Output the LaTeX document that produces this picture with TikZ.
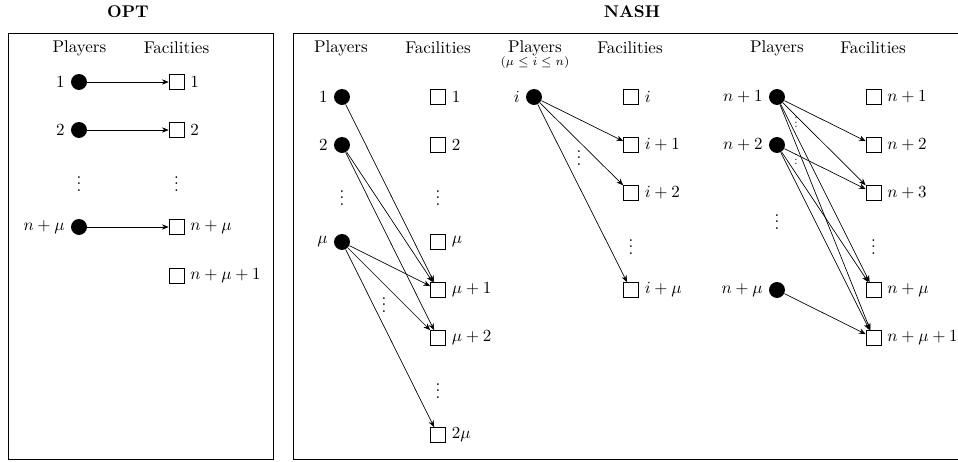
\documentclass[tikz,border=0pt]{standalone}
\usetikzlibrary{arrows.meta}
\tikzset{
  pl/.style={circle, fill=black, inner sep=0pt, minimum size=9.4pt},
  fac/.style={draw, rectangle, inner sep=0pt, minimum size=8.8pt},
  hdr/.style={inner sep=0pt},
  arr/.style={-{Stealth[length=4pt,width=3.2pt]}},
  vd/.style={inner sep=0pt},
  smallvd/.style={inner sep=0pt, scale=0.7},
  frame/.style={draw}
}
\begin{document}
\begin{tikzpicture}[x=0.5889pt, y=-0.5889pt]
\useasboundingbox (0,0) rectangle (958,462);
% ---------- OPT ----------
\node[hdr, font=\bfseries] (optt) at (128,12) {OPT};
\draw[frame] (8,33) rectangle (273,459);
\node[hdr] (oph) at (79.5,48) {Players};
\node[hdr] (ofh) at (176.5,48) {Facilities};
\node[pl, label=left:$1$] (op1) at (79,82) {};
\node[pl, label=left:$2$] (op2) at (79,130) {};
\node[vd] (opd) at (79,179) {$\vdots$};
\node[pl, label=left:$n+\mu$] (opn) at (79,227) {};
\node[fac, label=right:$1$] (of1) at (176.5,82) {};
\node[fac, label=right:$2$] (of2) at (176.5,130) {};
\node[vd] (ofd) at (176.5,179) {$\vdots$};
\node[fac, label=right:$n+\mu$] (ofn) at (176.5,227) {};
\node[fac, label=right:$n+\mu+1$] (ofn1) at (176.5,276) {};
\draw[arr] (op1) -- (of1);
\draw[arr] (op2) -- (of2);
\draw[arr] (opn) -- (ofn);
% ---------- NASH ----------
\node[hdr, font=\bfseries] (nasht) at (632,12) {NASH};
\draw[frame] (960,33) -- (293,33) -- (293,459) -- (960,459);
% section A
\node[hdr] (aph) at (341,48) {Players};
\node[hdr] (afh) at (438,48) {Facilities};
\node[pl, label=left:$1$] (a1) at (342,97) {};
\node[pl, label=left:$2$] (a2) at (342,145) {};
\node[vd] (ad) at (342,193) {$\vdots$};
\node[pl, label=left:$\mu$] (amu) at (342,242) {};
\node[fac, label=right:$1$] (b1) at (438,97) {};
\node[fac, label=right:$2$] (b2) at (438,145) {};
\node[vd] (bd) at (438,193) {$\vdots$};
\node[fac, label=right:$\mu$] (bmu) at (438,242) {};
\node[fac, label=right:$\mu+1$] (bmu1) at (438,290) {};
\node[fac, label=right:$\mu+2$] (bmu2) at (438,338) {};
\node[vd] (bd2) at (438,386) {$\vdots$};
\node[fac, label=right:$2\mu$] (b2mu) at (438,435) {};
\node[vd] (abd) at (384,300) {$\vdots$};
\draw[arr] (a1) -- (bmu1);
\draw[arr] (a2) -- (bmu1);
\draw[arr] (a2) -- (bmu2);
\draw[arr] (amu) -- (bmu1);
\draw[arr] (amu) -- (bmu2);
\draw[arr] (amu) -- (b2mu);
% section B
\node[hdr] (cph) at (535,48) {Players};
\node[hdr, font=\scriptsize] (cps) at (535,63) {$(\mu \leq i \leq n)$};
\node[hdr] (cfh) at (630,48) {Facilities};
\node[pl, label=left:$i$] (ci) at (534,97) {};
\node[fac, label=right:$i$] (c0) at (631,97) {};
\node[fac, label=right:$i+1$] (c1) at (631,145) {};
\node[fac, label=right:$i+2$] (c2) at (631,193) {};
\node[vd] (cd) at (631,242) {$\vdots$};
\node[fac, label=right:$i+\mu$] (cmu) at (631,290) {};
\node[vd] (cid) at (579,153) {$\vdots$};
\draw[arr] (ci) -- (c1);
\draw[arr] (ci) -- (c2);
\draw[arr] (ci) -- (cmu);
% section C
\node[hdr] (dph) at (777,48) {Players};
\node[hdr] (dfh) at (873,48) {Facilities};
\node[pl, label=left:$n+1$] (d1) at (777,97) {};
\node[pl, label=left:$n+2$] (d2) at (777,145) {};
\node[vd] (dd) at (777,217) {$\vdots$};
\node[pl, label=left:$n+\mu$] (dmu) at (777,290) {};
\node[fac, label=right:$n+1$] (e1) at (873.5,97) {};
\node[fac, label=right:$n+2$] (e2) at (873.5,145) {};
\node[fac, label=right:$n+3$] (e3) at (873.5,193) {};
\node[vd] (ed) at (873.5,242) {$\vdots$};
\node[fac, label=right:$n+\mu$] (emu) at (873.5,290) {};
\node[fac, label=right:$n+\mu+1$] (emu1) at (873.5,338) {};
\node[smallvd] (dv1) at (796,119) {$\vdots$};
\node[smallvd] (dv2) at (796,156) {$\vdots$};
\draw[arr] (d1) -- (e2);
\draw[arr] (d1) -- (e3);
\draw[arr] (d1) -- (emu);
\draw[arr] (d1) -- (emu1);
\draw[arr] (d2) -- (e3);
\draw[arr] (d2) -- (emu);
\draw[arr] (d2) -- (emu1);
\draw[arr] (dmu) -- (emu1);
\end{tikzpicture}
\end{document}
